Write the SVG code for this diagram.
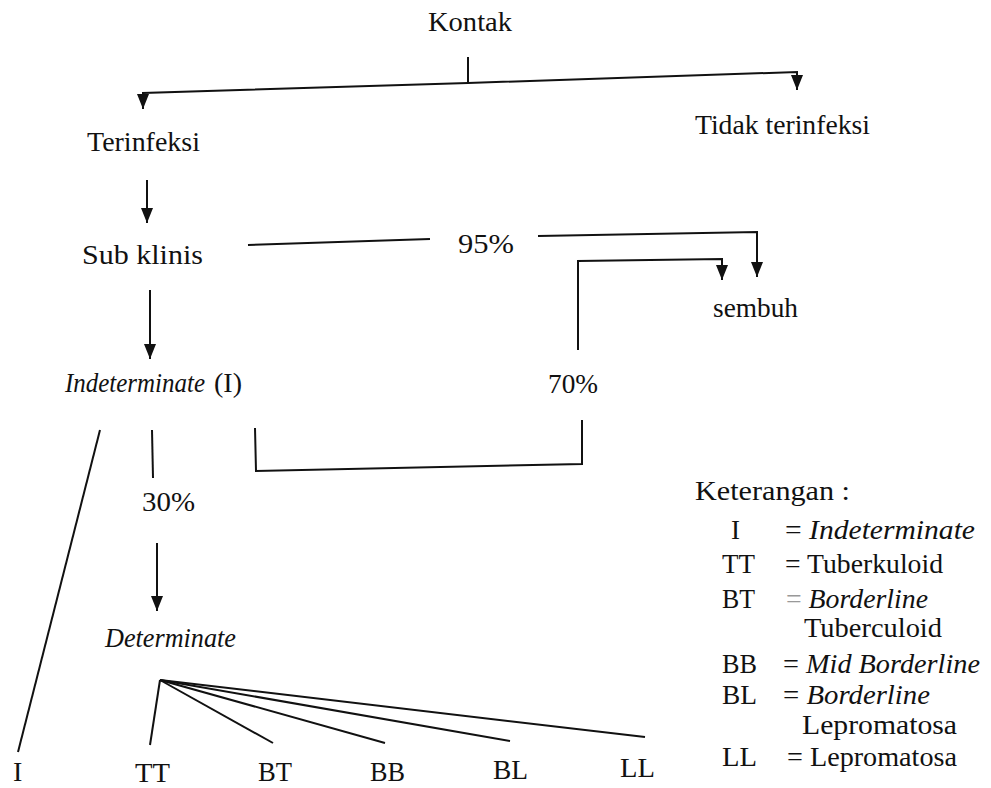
<svg xmlns="http://www.w3.org/2000/svg" width="991" height="788" viewBox="0 0 991 788">
<style>
text{font-family:"Liberation Serif","Times New Roman",serif;fill:#111;}
.m{font-size:28px;}
.k{font-size:27px;}
.i{font-style:italic;}
.c{fill:none;stroke:#111;stroke-width:2;}
</style>
<defs>
<marker id="ah" markerUnits="userSpaceOnUse" markerWidth="16" markerHeight="12" viewBox="0 -6 16 12" refX="15" refY="0" orient="auto" overflow="visible">
<path d="M0,-6 L15,0 L0,6 z" fill="#111"/>
</marker>
</defs>
<rect width="991" height="788" fill="#fff"/>
<g id="connectors">
<path class="c" d="M468,57 L468,83"/>
<path class="c" d="M468,83 L143,93 L143,109" marker-end="url(#ah)"/>
<path class="c" d="M468,83 L797,72 L797,90" marker-end="url(#ah)"/>
<path class="c" d="M147,180 L147,223" marker-end="url(#ah)"/>
<path class="c" d="M248,245 L430,239"/>
<path class="c" d="M538,236 L757,232 L757,277" marker-end="url(#ah)"/>
<path class="c" d="M578,350 L578,261 L722,259 L722,280" marker-end="url(#ah)"/>
<path class="c" d="M150,290 L150,359" marker-end="url(#ah)"/>
<path class="c" d="M255,428 L256,471 L582,464 L582,420"/>
<path class="c" d="M152,430 L153,478"/>
<path class="c" d="M157,543 L157,611" marker-end="url(#ah)"/>
<path class="c" d="M100,430 L18,752"/>
<path class="c" d="M160,680 L150,745"/>
<path class="c" d="M160,680 L273,743"/>
<path class="c" d="M160,680 L385,743"/>
<path class="c" d="M160,680 L510,741"/>
<path class="c" d="M160,680 L645,737"/>
</g>
<g id="kontak"><text class="m" x="428" y="31" textLength="84" lengthAdjust="spacingAndGlyphs">Kontak</text></g>
<g id="terinfeksi"><text class="m" x="87" y="151" textLength="113" lengthAdjust="spacingAndGlyphs">Terinfeksi</text></g>
<g id="tidak"><text class="m" x="695" y="134" textLength="175" lengthAdjust="spacingAndGlyphs">Tidak terinfeksi</text></g>
<g id="subklinis"><text class="m" x="82" y="264" textLength="121" lengthAdjust="spacingAndGlyphs">Sub klinis</text></g>
<g id="p95"><text class="m" x="458" y="253" textLength="56" lengthAdjust="spacingAndGlyphs">95%</text></g>
<g id="sembuh"><text class="m" x="713" y="317" textLength="85" lengthAdjust="spacingAndGlyphs">sembuh</text></g>
<g id="indeterminate">
<text class="m i" x="65" y="392" textLength="140" lengthAdjust="spacingAndGlyphs">Indeterminate</text>
<text class="m" x="214" y="392">(I)</text>
</g>
<g id="p70"><text class="m" x="548" y="393" textLength="50" lengthAdjust="spacingAndGlyphs">70%</text></g>
<g id="p30"><text class="m" x="142" y="511" textLength="53" lengthAdjust="spacingAndGlyphs">30%</text></g>
<g id="determinate"><text class="m i" x="105" y="647" textLength="131" lengthAdjust="spacingAndGlyphs">Determinate</text></g>
<g id="nI"><text class="m" x="13" y="781">I</text></g>
<g id="nTT"><text class="m" x="135" y="782" textLength="35" lengthAdjust="spacingAndGlyphs">TT</text></g>
<g id="nBT"><text class="m" x="258" y="781" textLength="34" lengthAdjust="spacingAndGlyphs">BT</text></g>
<g id="nBB"><text class="m" x="370" y="781" textLength="35" lengthAdjust="spacingAndGlyphs">BB</text></g>
<g id="nBL"><text class="m" x="493" y="779" textLength="35" lengthAdjust="spacingAndGlyphs">BL</text></g>
<g id="nLL"><text class="m" x="620" y="777" textLength="35" lengthAdjust="spacingAndGlyphs">LL</text></g>
<g id="legend">
<text class="k" x="695" y="500" textLength="155" lengthAdjust="spacingAndGlyphs">Keterangan :</text>
<text class="k" x="731" y="539">I</text>
<text class="k" x="785" y="539" textLength="190" lengthAdjust="spacingAndGlyphs">= <tspan class="i">Indeterminate</tspan></text>
<text class="k" x="722" y="573" textLength="33" lengthAdjust="spacingAndGlyphs">TT</text>
<text class="k" x="785" y="573" textLength="158" lengthAdjust="spacingAndGlyphs">= Tuberkuloid</text>
<text class="k" x="722" y="608" textLength="33" lengthAdjust="spacingAndGlyphs">BT</text>
<text class="k" x="786" y="608" textLength="142" lengthAdjust="spacingAndGlyphs"><tspan fill="#999">=</tspan> <tspan class="i">Borderline</tspan></text>
<text class="k" x="804" y="637" textLength="138" lengthAdjust="spacingAndGlyphs">Tuberculoid</text>
<text class="k" x="722" y="673" textLength="35" lengthAdjust="spacingAndGlyphs">BB</text>
<text class="k" x="783" y="673" textLength="197" lengthAdjust="spacingAndGlyphs">= <tspan class="i">Mid Borderline</tspan></text>
<text class="k" x="722" y="704" textLength="35" lengthAdjust="spacingAndGlyphs">BL</text>
<text class="k" x="783" y="704" textLength="147" lengthAdjust="spacingAndGlyphs">= <tspan class="i">Borderline</tspan></text>
<text class="k" x="802" y="734" textLength="155" lengthAdjust="spacingAndGlyphs">Lepromatosa</text>
<text class="k" x="722" y="766" textLength="35" lengthAdjust="spacingAndGlyphs">LL</text>
<text class="k" x="787" y="766" textLength="170" lengthAdjust="spacingAndGlyphs">= Lepromatosa</text>
</g>
</svg>
